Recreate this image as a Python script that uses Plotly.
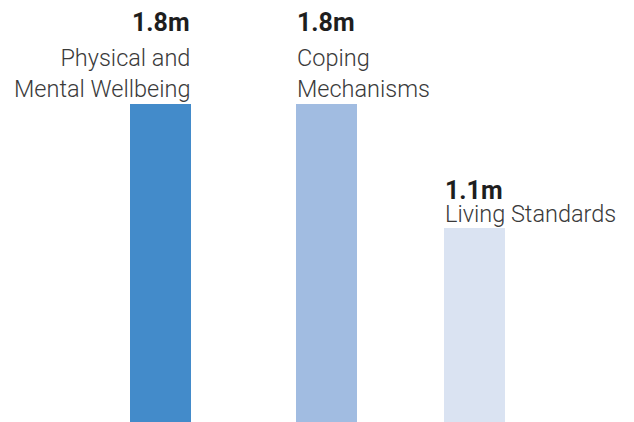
import plotly.graph_objects as go

categories = ["Physical and<br>Mental Wellbeing", "Coping<br>Mechanisms", "Living Standards"]
values = [1.8, 1.8, 1.1]
value_labels = ["1.8m", "1.8m", "1.1m"]
colors = ["#438BCA", "#A1BCE1", "#DAE3F2"]

# styling / layout
bar_offsets = [-0.194, -0.137, -0.194]
bar_width = 0.389
label_anchor = ["right", "left", "left"]
label_xshift = [30.5, -21.5, -30.5]
label_yshift = [0, 0, -1]
num_yshift = [66, 66, 22]

fig = go.Figure()
fig.add_trace(go.Bar(
    x=categories, y=values, marker=dict(color=colors, line=dict(width=0)),
    width=bar_width, offset=bar_offsets, hoverinfo="skip",
))

for i, c in enumerate(categories):
    fig.add_annotation(
        x=c, y=values[i], xref="x", yref="y", text=c, showarrow=False,
        xanchor=label_anchor[i], yanchor="bottom", align=label_anchor[i],
        xshift=label_xshift[i], yshift=label_yshift[i],
        font=dict(family="Roboto", size=23.5, color="#3a3a3a", weight=300),
        borderpad=0,
    )
    fig.add_annotation(
        x=c, y=values[i], xref="x", yref="y", text="<b>" + value_labels[i] + "</b>",
        showarrow=False, xanchor=label_anchor[i], yanchor="bottom",
        xshift=label_xshift[i], yshift=num_yshift[i],
        font=dict(family="Roboto", size=25, color="#1e1e1e"),
        borderpad=0,
    )

fig.update_layout(
    width=626, height=414, margin=dict(l=0, r=0, t=0, b=0),
    paper_bgcolor="white", plot_bgcolor="white", showlegend=False,
    xaxis=dict(visible=False, range=[-0.9713, 3.0159]),
    yaxis=dict(visible=False, range=[0, 1.8 * 414 / 318]),
    bargap=0,
)
fig.write_html("out.html")
